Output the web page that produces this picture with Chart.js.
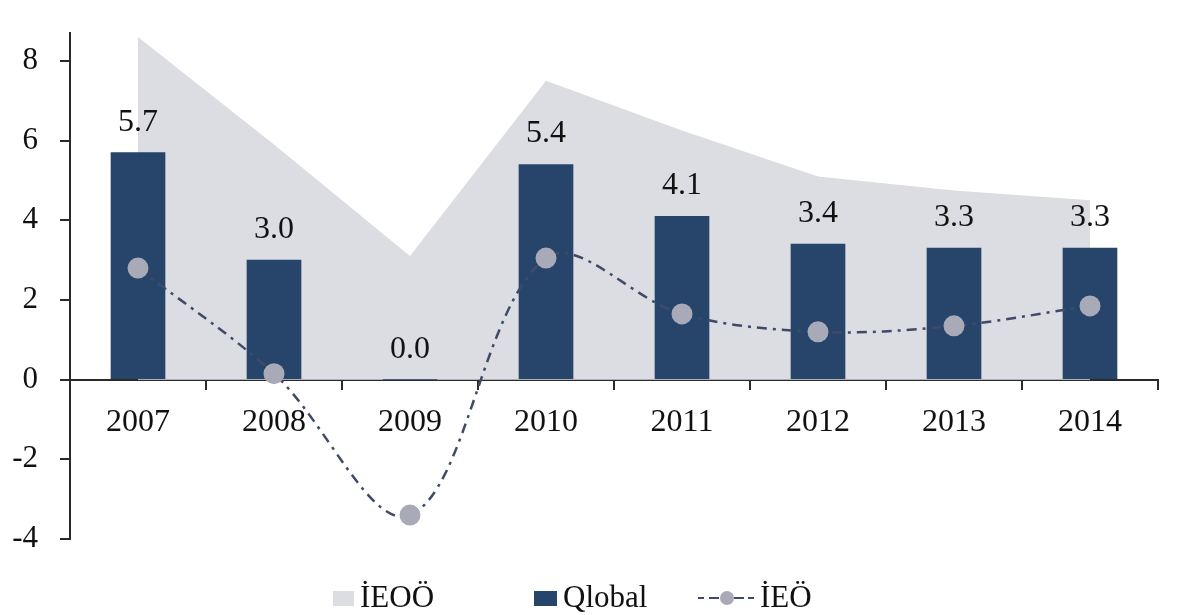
<!DOCTYPE html>
<html><head><meta charset="utf-8">
<script src="https://cdn.jsdelivr.net/npm/chart.js@4/dist/chart.umd.min.js"></script>
<style>html,body{margin:0;padding:0;background:#fff;overflow:hidden}</style>
</head><body>
<canvas id="c" width="1181" height="615" style="width:1181px;height:615px;display:block"></canvas>
<script>
const categories = ['2007', '2008', '2009', '2010', '2011', '2012', '2013', '2014'];
const ieooValues = [8.6, 5.9, 3.1, 7.5, 6.25, 5.1, 4.75, 4.5];
const qlobalValues = [5.7, 3.0, 0.0, 5.4, 4.1, 3.4, 3.3, 3.3];
const ieoValues = [2.8, 0.15, -3.4, 3.05, 1.65, 1.2, 1.35, 1.85];
const yTicks = [-4, -2, 0, 2, 4, 6, 8];
const seriesNames = ['İEOÖ', 'Qlobal', 'İEÖ'];

const AREA = '#dcdce3', BAR = '#27456b', LINE = '#3f4a68', POINT = '#a9aab8', AXIS = '#2a2a2a', TEXT = '#111111';
const FONT = '"Liberation Serif", "Times New Roman", serif';

const barLabels = {
  id: 'barLabels',
  afterDatasetsDraw(chart) {
    const ctx = chart.ctx;
    const meta = chart.getDatasetMeta(1);
    ctx.save();
    ctx.font = '32px ' + FONT;
    ctx.fillStyle = TEXT;
    ctx.textAlign = 'center';
    ctx.textBaseline = 'alphabetic';
    meta.data.forEach((bar, i) => {
      ctx.fillText(qlobalValues[i].toFixed(1), bar.x, bar.y - 22);
    });
    ctx.restore();
  }
};

const customLegend = {
  id: 'customLegend',
  afterDraw(chart) {
    const ctx = chart.ctx;
    ctx.save();
    ctx.font = '31px ' + FONT;
    ctx.textBaseline = 'alphabetic';
    const base = 607;
    ctx.fillStyle = AREA;
    ctx.fillRect(333, 591, 21, 15);
    ctx.fillStyle = TEXT;
    ctx.fillText(seriesNames[0], 360, base);
    ctx.fillStyle = BAR;
    ctx.fillRect(534, 591, 23, 15);
    ctx.fillStyle = TEXT;
    ctx.fillText(seriesNames[1], 563, base);
    ctx.strokeStyle = LINE;
    ctx.lineWidth = 2.2;
    ctx.setLineDash([6, 5, 10, 4]);
    ctx.beginPath();
    ctx.moveTo(698, 598);
    ctx.lineTo(756, 598);
    ctx.stroke();
    ctx.setLineDash([]);
    ctx.fillStyle = POINT;
    ctx.beginPath();
    ctx.arc(727, 598, 7, 0, Math.PI * 2);
    ctx.fill();
    ctx.fillStyle = TEXT;
    ctx.fillText(seriesNames[2], 760, base);
    ctx.restore();
  }
};

new Chart(document.getElementById('c'), {
  type: 'bar',
  data: {
    labels: categories,
    datasets: [
      {
        type: 'line', label: seriesNames[0], data: ieooValues, fill: 'origin',
        backgroundColor: AREA, borderWidth: 0, borderColor: 'rgba(0,0,0,0)',
        pointRadius: 0, tension: 0, order: 3
      },
      {
        type: 'bar', label: seriesNames[1], data: qlobalValues, backgroundColor: BAR,
        barThickness: 54, order: 2
      },
      {
        type: 'line', label: seriesNames[2], data: ieoValues, fill: false,
        borderColor: LINE, borderWidth: 2.5, borderDash: [10, 6, 3, 6],
        pointRadius: 10.5, pointBackgroundColor: POINT, pointBorderWidth: 0,
        tension: 0.35, order: 1
      }
    ]
  },
  options: {
    responsive: false,
    animation: false,
    devicePixelRatio: 1,
    layout: { padding: { left: 0, top: 33, right: 23, bottom: 76 } },
    plugins: { legend: { display: false }, tooltip: { enabled: false } },
    scales: {
      x: {
        position: { y: 0 },
        afterFit(s) { s.height = 0; s.paddingLeft = 0; s.paddingRight = 0; s.paddingTop = 0; s.paddingBottom = 0; },
        border: { color: AXIS, width: 2 },
        grid: { drawOnChartArea: false, offset: true, tickLength: 9, tickColor: AXIS, tickWidth: 2, color: AXIS, lineWidth: 2 },
        ticks: { font: { family: FONT, size: 32 }, color: TEXT, padding: 15, maxRotation: 0 }
      },
      y: {
        min: -4, max: 8.7,
        afterBuildTicks(s) { s.ticks = yTicks.map(v => ({ value: v })); },
        afterFit(s) { s.width = 70; s.paddingTop = 0; s.paddingBottom = 0; s.paddingLeft = 0; s.paddingRight = 0; },
        border: { color: AXIS, width: 2 },
        grid: { drawOnChartArea: false, tickLength: 10, tickColor: AXIS, tickWidth: 2, color: AXIS, lineWidth: 2 },
        ticks: { font: { family: FONT, size: 31 }, color: TEXT, padding: 22 }
      }
    }
  },
  plugins: [barLabels, customLegend]
});
</script>
</body></html>
